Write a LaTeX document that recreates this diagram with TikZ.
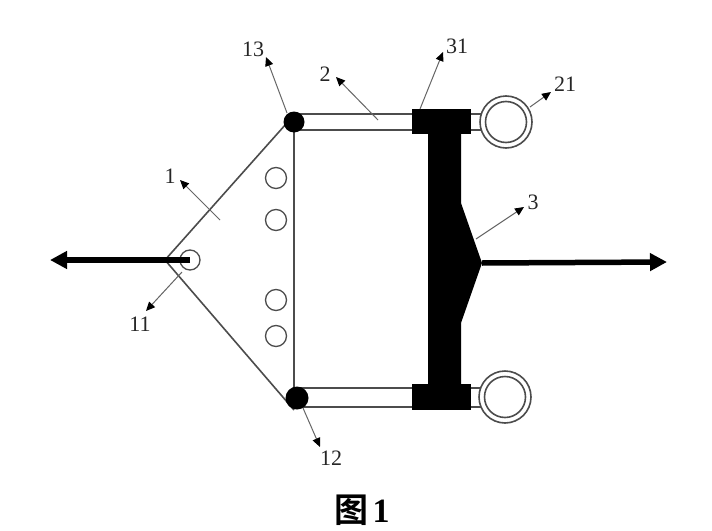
\documentclass[tikz,border=0pt]{standalone}
\usepackage{fontspec}
\setmainfont{Liberation Serif}
\newfontfamily\cjk{Noto Sans CJK SC}[BoldFont={* Bold}]
\usetikzlibrary{arrows.meta}
\definecolor{ln}{gray}{0.3}
\tikzset{
  x=1pt,y=-1pt,
  outline/.style={draw=ln,line width=1.6pt},
  hole/.style={circle,draw=ln,line width=1.3pt,minimum size=21pt,inner sep=0pt},
  dot/.style={circle,fill=black,inner sep=0pt},
  ringo/.style={circle,draw=ln,fill=white,line width=1.6pt,minimum size=52pt,inner sep=0pt},
  ringi/.style={circle,draw=ln,line width=1.6pt,minimum size=41pt,inner sep=0pt},
  block/.style={fill=black},
  pull/.style={line width=5.5pt,-{Triangle[length=17pt,width=17pt]}},
  leader/.style={draw=black!60,line width=1pt,-{Triangle[black,length=9pt,width=8pt]}},
  lab/.style={font=\fontsize{22}{22}\selectfont,text=black!85,inner sep=0pt}
}
\begin{document}
\begin{tikzpicture}
\useasboundingbox[fill=white] (0,0) rectangle (712,530);
% body
\coordinate (apex) at (165,260);
\coordinate (topc) at (294,115);
\coordinate (botc) at (294,410);
\draw[outline] (botc) -- (apex) -- (topc);
\draw[outline] (294,122) -- (294,398);
% rods
\draw[ln,line width=2pt] (294,113.5) -- (482,113.5) (294,130) -- (482,130);
\draw[ln,line width=2pt] (297,388) -- (482,388) (297,406.5) -- (482,406.5);
% handle
\fill[block] (412,109) rectangle (471,134);
\fill[block] (412,384) rectangle (471,410);
\coordinate (tip) at (482,263);
\fill[block] (428,130) -- (461,130) -- (461,203) -- (tip) -- (461,323) -- (461,388) -- (428,388) -- cycle;
% rings
\node[ringo] (r1o) at (506,122) {};
\node[ringi] (r1i) at (506,122) {};
\node[ringo] (r2o) at (505,397) {};
\node[ringi] (r2i) at (505,397) {};
% dots
\node[dot,minimum size=21pt] (d13) at (294,122) {};
\node[dot,minimum size=23pt] (d12) at (297,398) {};
% holes
\node[hole] (h1) at (276,178) {};
\node[hole] (h2) at (276,220) {};
\node[hole] (h3) at (276,300) {};
\node[hole] (h4) at (276,336) {};
\node[hole,minimum size=20pt] (h11) at (190,260) {};
% pull arrows
\coordinate (lend) at (50,260);
\coordinate (rend) at (667,262);
\draw[pull] (190,260) -- (lend);
\draw[pull] (tip) -- (rend);
% labels
\node[lab] (l13) at (253,49) {13};
\node[lab] (l2) at (325,74) {2};
\node[lab] (l31) at (457,46) {31};
\node[lab] (l21) at (565,84) {21};
\node[lab] (l3) at (533,202) {3};
\node[lab] (l1) at (170,176) {1};
\node[lab] (l11) at (140,324) {11};
\node[lab] (l12) at (331,458) {12};
\node[inner sep=0pt,font=\fontsize{34}{34}\selectfont\bfseries] (title) at (362,510) {{\cjk 图}\hspace{4pt}1};
% leaders
\coordinate (s13) at (287,113); \coordinate (e13) at (266,57);
\coordinate (s2) at (378,120); \coordinate (e2) at (336,77);
\coordinate (s31) at (420,109); \coordinate (e31) at (443,52);
\coordinate (s21) at (530,107); \coordinate (e21) at (551,92);
\coordinate (s3) at (476,239); \coordinate (e3) at (524,207);
\coordinate (s1) at (220,220); \coordinate (e1) at (180,180);
\coordinate (s11) at (182,272); \coordinate (e11) at (146,311);
\coordinate (s12) at (303,408); \coordinate (e12) at (320,447);
\draw[leader] (s13) -- (e13);
\draw[leader] (s2) -- (e2);
\draw[leader] (s31) -- (e31);
\draw[leader] (s21) -- (e21);
\draw[leader] (s3) -- (e3);
\draw[leader] (s1) -- (e1);
\draw[leader] (s11) -- (e11);
\draw[leader] (s12) -- (e12);
\end{tikzpicture}
\end{document}
